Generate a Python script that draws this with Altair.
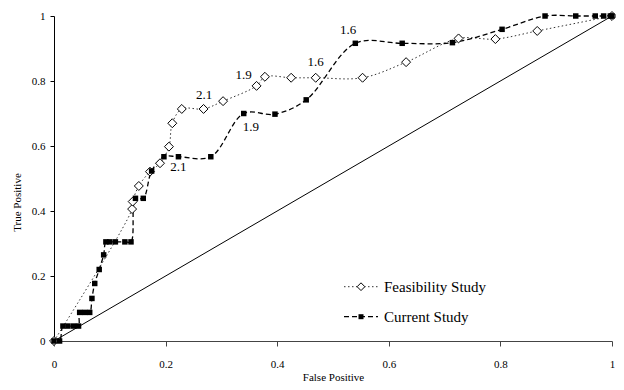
import altair as alt
import pandas as pd

# ---- data ----
series_names = ["Feasibility Study", "Current Study"]

feas_fp = [0.0, 0.140, 0.141, 0.152, 0.172, 0.190, 0.206, 0.212, 0.229, 0.268,
           0.303, 0.363, 0.378, 0.425, 0.469, 0.553, 0.631, 0.725, 0.791, 0.866, 1.0]
feas_tp = [0.0, 0.406, 0.429, 0.477, 0.521, 0.547, 0.598, 0.670, 0.714, 0.714,
           0.738, 0.785, 0.813, 0.810, 0.810, 0.810, 0.858, 0.931, 0.929, 0.954, 1.0]

curr_fp = [0.0, 0.010, 0.016, 0.025, 0.035, 0.044, 0.046, 0.055, 0.064, 0.068,
           0.073, 0.081, 0.089, 0.093, 0.100, 0.110, 0.127, 0.138, 0.146, 0.160,
           0.175, 0.197, 0.223, 0.281, 0.340, 0.396, 0.452, 0.540, 0.624, 0.714,
           0.803, 0.880, 0.935, 0.970, 0.985, 0.997, 1.0]
curr_tp = [0.0, 0.0, 0.046, 0.046, 0.046, 0.046, 0.088, 0.088, 0.088, 0.131,
           0.177, 0.220, 0.265, 0.305, 0.305, 0.305, 0.305, 0.305, 0.439, 0.439,
           0.523, 0.567, 0.567, 0.567, 0.700, 0.698, 0.742, 0.916, 0.916, 0.918,
           0.959, 1.0, 1.0, 1.0, 1.0, 1.0, 1.0]

feas_label_text = ["2.1", "1.9", "1.6"]
feas_label_fp = [0.269, 0.340, 0.469]
feas_label_tp = [0.757, 0.818, 0.858]

curr_label_text = ["2.1", "1.9", "1.6"]
curr_label_fp = [0.223, 0.353, 0.527]
curr_label_tp = [0.535, 0.658, 0.957]

diag_fp = [0.0, 1.0]
diag_tp = [0.0, 1.0]

tick_values = [0, 0.2, 0.4, 0.6, 0.8, 1]

FONT = "Liberation Serif"

# ---- tables ----
feas = pd.DataFrame({"fp": feas_fp, "tp": feas_tp, "idx": range(len(feas_fp)),
                     "series": series_names[0]})
curr = pd.DataFrame({"fp": curr_fp, "tp": curr_tp, "idx": range(len(curr_fp)),
                     "series": series_names[1]})
diag = pd.DataFrame({"fp": diag_fp, "tp": diag_tp})
labels = pd.DataFrame({
    "fp": feas_label_fp + curr_label_fp,
    "tp": feas_label_tp + curr_label_tp,
    "text": feas_label_text + curr_label_text,
})
legend_df = pd.DataFrame({"series": series_names})

xscale = alt.Scale(domain=[0, 1], nice=False)
yscale = alt.Scale(domain=[0, 1], nice=False)

x_axis = alt.Axis(values=tick_values, format="~g", title="False Positive", grid=False,
                  tickSize=5, labelPadding=12, labelFlush=False,
                  titleBaseline="middle", titleY=36,
                  domainColor="#444", tickColor="#444")
y_axis = alt.Axis(values=tick_values, format="~g", title="True Positive", grid=False,
                  tickSize=4, labelPadding=5, titleBaseline="middle",
                  titleX=-37, titleY=186, domainColor="#000", tickColor="#000")

X = alt.X("fp:Q", scale=xscale, axis=x_axis)
Y = alt.Y("tp:Q", scale=yscale, axis=y_axis)

diag_layer = alt.Chart(diag).mark_line(color="black", strokeWidth=1).encode(
    x=X, y=Y)

feas_line = alt.Chart(feas).mark_line(
    color="#333", strokeWidth=1, strokeDash=[1.5, 2.5],
    interpolate="catmull-rom").encode(x="fp:Q", y="tp:Q", order="idx:Q")

curr_line = alt.Chart(curr).mark_line(
    color="black", strokeWidth=1.3, strokeDash=[5, 3],
    interpolate="catmull-rom").encode(x="fp:Q", y="tp:Q", order="idx:Q")

feas_pts = alt.Chart(feas).mark_point(
    shape="diamond", size=80, filled=True, fill="white", stroke="black",
    strokeWidth=1, opacity=1).encode(x="fp:Q", y="tp:Q")

curr_pts = alt.Chart(curr).mark_point(
    shape="square", size=30, filled=True, color="black", opacity=1).encode(
    x="fp:Q", y="tp:Q")

label_layer = alt.Chart(labels).mark_text(
    font=FONT, fontSize=13, color="black", baseline="middle", align="center").encode(
    x="fp:Q", y="tp:Q", text="text:N")

# ---- legend ----
legend_layers = []
legend_y = [270.7, 300.7]
styles = [
    dict(dash=[1.5, 2.5], width=1, color="#333"),
    dict(dash=[5, 3], width=1.3, color="black"),
]
for i, name in enumerate(series_names):
    base = alt.Chart(legend_df).transform_filter(alt.datum.series == name)
    st = styles[i]
    legend_layers.append(base.mark_rule(
        strokeDash=st["dash"], strokeWidth=st["width"], color=st["color"]).encode(
        x=alt.value(290), x2=alt.value(324), y=alt.value(legend_y[i])))
    if i == 0:
        legend_layers.append(base.mark_point(
            shape="diamond", size=60, filled=True, fill="white", stroke="black",
            strokeWidth=1, opacity=1).encode(x=alt.value(307), y=alt.value(legend_y[i])))
    else:
        legend_layers.append(base.mark_point(
            shape="square", size=25, filled=True, color="black", opacity=1).encode(
            x=alt.value(307), y=alt.value(legend_y[i])))
    legend_layers.append(base.mark_text(
        font=FONT, fontSize=15, align="left", baseline="middle", color="black").encode(
        x=alt.value(330), y=alt.value(legend_y[i]), text="series:N"))

chart = alt.layer(
    diag_layer, feas_line, curr_line, feas_pts, curr_pts, label_layer, *legend_layers
).properties(
    width=558, height=325,
    autosize=alt.AutoSizeParams(type="none"),
    padding={"left": 46, "top": 8, "right": 4, "bottom": 41},
    background="white",
).configure_view(stroke=None).configure_axis(
    labelFont=FONT, titleFont=FONT, labelFontSize=11, titleFontSize=11,
    titleFontWeight="normal", labelColor="black", titleColor="black",
)

chart.save("out.html", embed_options={"renderer": "svg", "actions": False})
